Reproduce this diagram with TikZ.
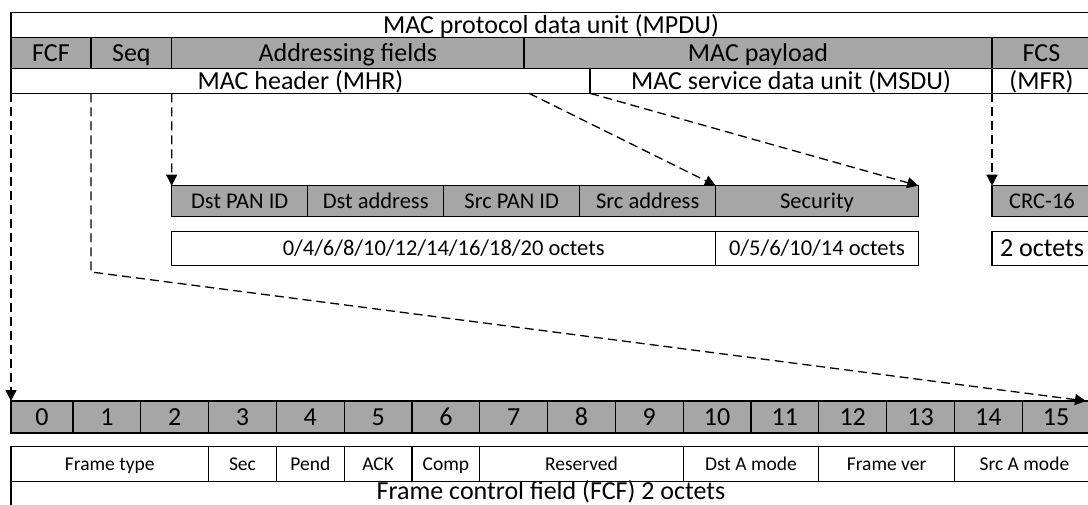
\documentclass[tikz,border=0pt]{standalone}
\usepackage{fontspec}
\setmainfont{Carlito}
\usetikzlibrary{arrows.meta,positioning}
\definecolor{fieldgrey}{RGB}{166,166,166}
\newcommand{\bigtxt}{\fontsize{26}{29}\selectfont}
\newcommand{\midtxt}{\fontsize{22.5}{25}\selectfont}
\newcommand{\smalltxt}{\fontsize{19.5}{22}\selectfont}
\tikzstyle{cell} = [rectangle, draw, line width=1.3pt, inner sep=0pt, outer sep=0pt, text depth=0pt]
\tikzstyle{greycell} = [cell, fill=fieldgrey]
\tikzstyle{whitecell} = [cell, fill=white]
\tikzstyle{bigfont} = [font=\bigtxt, text height=16.5pt]
\tikzstyle{midfont} = [font=\midtxt, text height=14.3pt]
\tikzstyle{smallfont} = [font=\smalltxt, text height=12.4pt]
\tikzstyle{toprow} = [greycell, bigfont, minimum height=30.6]
\tikzstyle{hdrrow} = [whitecell, bigfont, minimum height=25]
\tikzstyle{subfield} = [greycell, midfont, minimum width=136, minimum height=31]
\tikzstyle{octets} = [whitecell, midfont, minimum height=33.5]
\tikzstyle{bitcell} = [greycell, bigfont, minimum width=67.8, minimum height=32]
\tikzstyle{bitfield} = [whitecell, smallfont, minimum height=35]
\tikzstyle{line} = [draw, line width=1.3pt, dash pattern=on 9pt off 5pt, -{Triangle[width=11pt,length=11pt]}]

\begin{document}
\begin{tikzpicture}[x=1pt, y=-1pt, node distance=0pt]
\clip (0,0) rectangle (1088,504);
\fill [white] (0,0) rectangle (1088,504);
% Place nodes
% MPDU
\node [hdrrow, anchor=north west, minimum width=1080] (mpdu) at (11,12.7) {MAC protocol data unit (MPDU)};
\node [toprow, anchor=north west, minimum width=80] (fcf) at (mpdu.south west) {FCF};
\node [toprow, right=of fcf, minimum width=80.7] (seq) {Seq};
\node [toprow, right=of seq, minimum width=352.3] (addr) {Addressing fields};
\node [toprow, right=of addr, minimum width=468] (payload) {MAC payload};
\node [toprow, right=of payload, minimum width=99] (fcs) {FCS};
\node [hdrrow, anchor=north west, minimum width=579] (mhr) at (fcf.south west) {MAC header (MHR)};
\node [hdrrow, right=of mhr, minimum width=402] (msdu) {MAC service data unit (MSDU)};
\node [hdrrow, right=of msdu, minimum width=99] (mfr) {(MFR)};
% addressing and payload fields
\node [subfield, anchor=north west] (dstpan) at (171.7,185.7) {Dst PAN ID};
\node [subfield, right=of dstpan] (dstaddr) {Dst address};
\node [subfield, right=of dstaddr] (srcpan) {Src PAN ID};
\node [subfield, right=of srcpan] (srcaddr) {Src address};
\node [subfield, right=of srcaddr, minimum width=202.5] (security) {Security};
\node [subfield, anchor=north west, minimum width=100] (crc) at (992,185.7) {CRC-16};
\node [octets, anchor=north west, minimum width=544] (addroct) at ([yshift=-15pt]dstpan.south west) {0/4/6/8/10/12/14/16/18/20 octets};
\node [octets, right=of addroct, minimum width=202.5] (secoct) {0/5/6/10/14 octets};
\node [octets, bigfont, anchor=north west, minimum width=100] (crcoct) at ([yshift=-15pt]crc.south west) {2 octets};
% frame control bits
\node [bitcell, anchor=north west, minimum width=62] (bit0) at (11,401) {0};
\foreach \i [remember=\i as \j (initially 0)] in {1,...,15}
  \node [bitcell, right=of bit\j] (bit\i) {\i};
\node [bitfield, anchor=north west, minimum width=197.6] (ftype) at ([yshift=-13.7pt]bit0.south west) {Frame type};
\node [bitfield, right=of ftype, minimum width=67.8] (secbit) {Sec};
\node [bitfield, right=of secbit, minimum width=67.8] (pend) {Pend};
\node [bitfield, right=of pend, minimum width=67.8] (ack) {ACK};
\node [bitfield, right=of ack, minimum width=67.8] (comp) {Comp};
\node [bitfield, right=of comp, minimum width=203.4] (reserved) {Reserved};
\node [bitfield, right=of reserved, minimum width=135.6] (dstmode) {Dst A mode};
\node [bitfield, right=of dstmode, minimum width=135.6] (framever) {Frame ver};
\node [bitfield, right=of framever, minimum width=140] (srcmode) {Src A mode};
\node [whitecell, bigfont, text depth=5pt, anchor=north west, minimum width=1080, minimum height=23.5] (fcfrow) at (ftype.south west) {Frame control field (FCF) 2 octets};
% Draw edges
\coordinate (hdrsplit) at ([xshift=518pt]mhr.south west);
\coordinate (fcfbend) at (91,272);
\path [line] (mhr.south west) -- (bit0.north west);
\path [line] (fcf.east |- mhr.south) -- (fcfbend) -- ([xshift=-4pt]bit15.north east);
\path [line] (seq.east |- mhr.south) -- (dstpan.north west);
\path [line] (hdrsplit) -- (srcaddr.north east);
\path [line] (msdu.south west) -- (security.north east);
\path [line] (mfr.south west) -- (crc.north west);
\end{tikzpicture}
\end{document}
